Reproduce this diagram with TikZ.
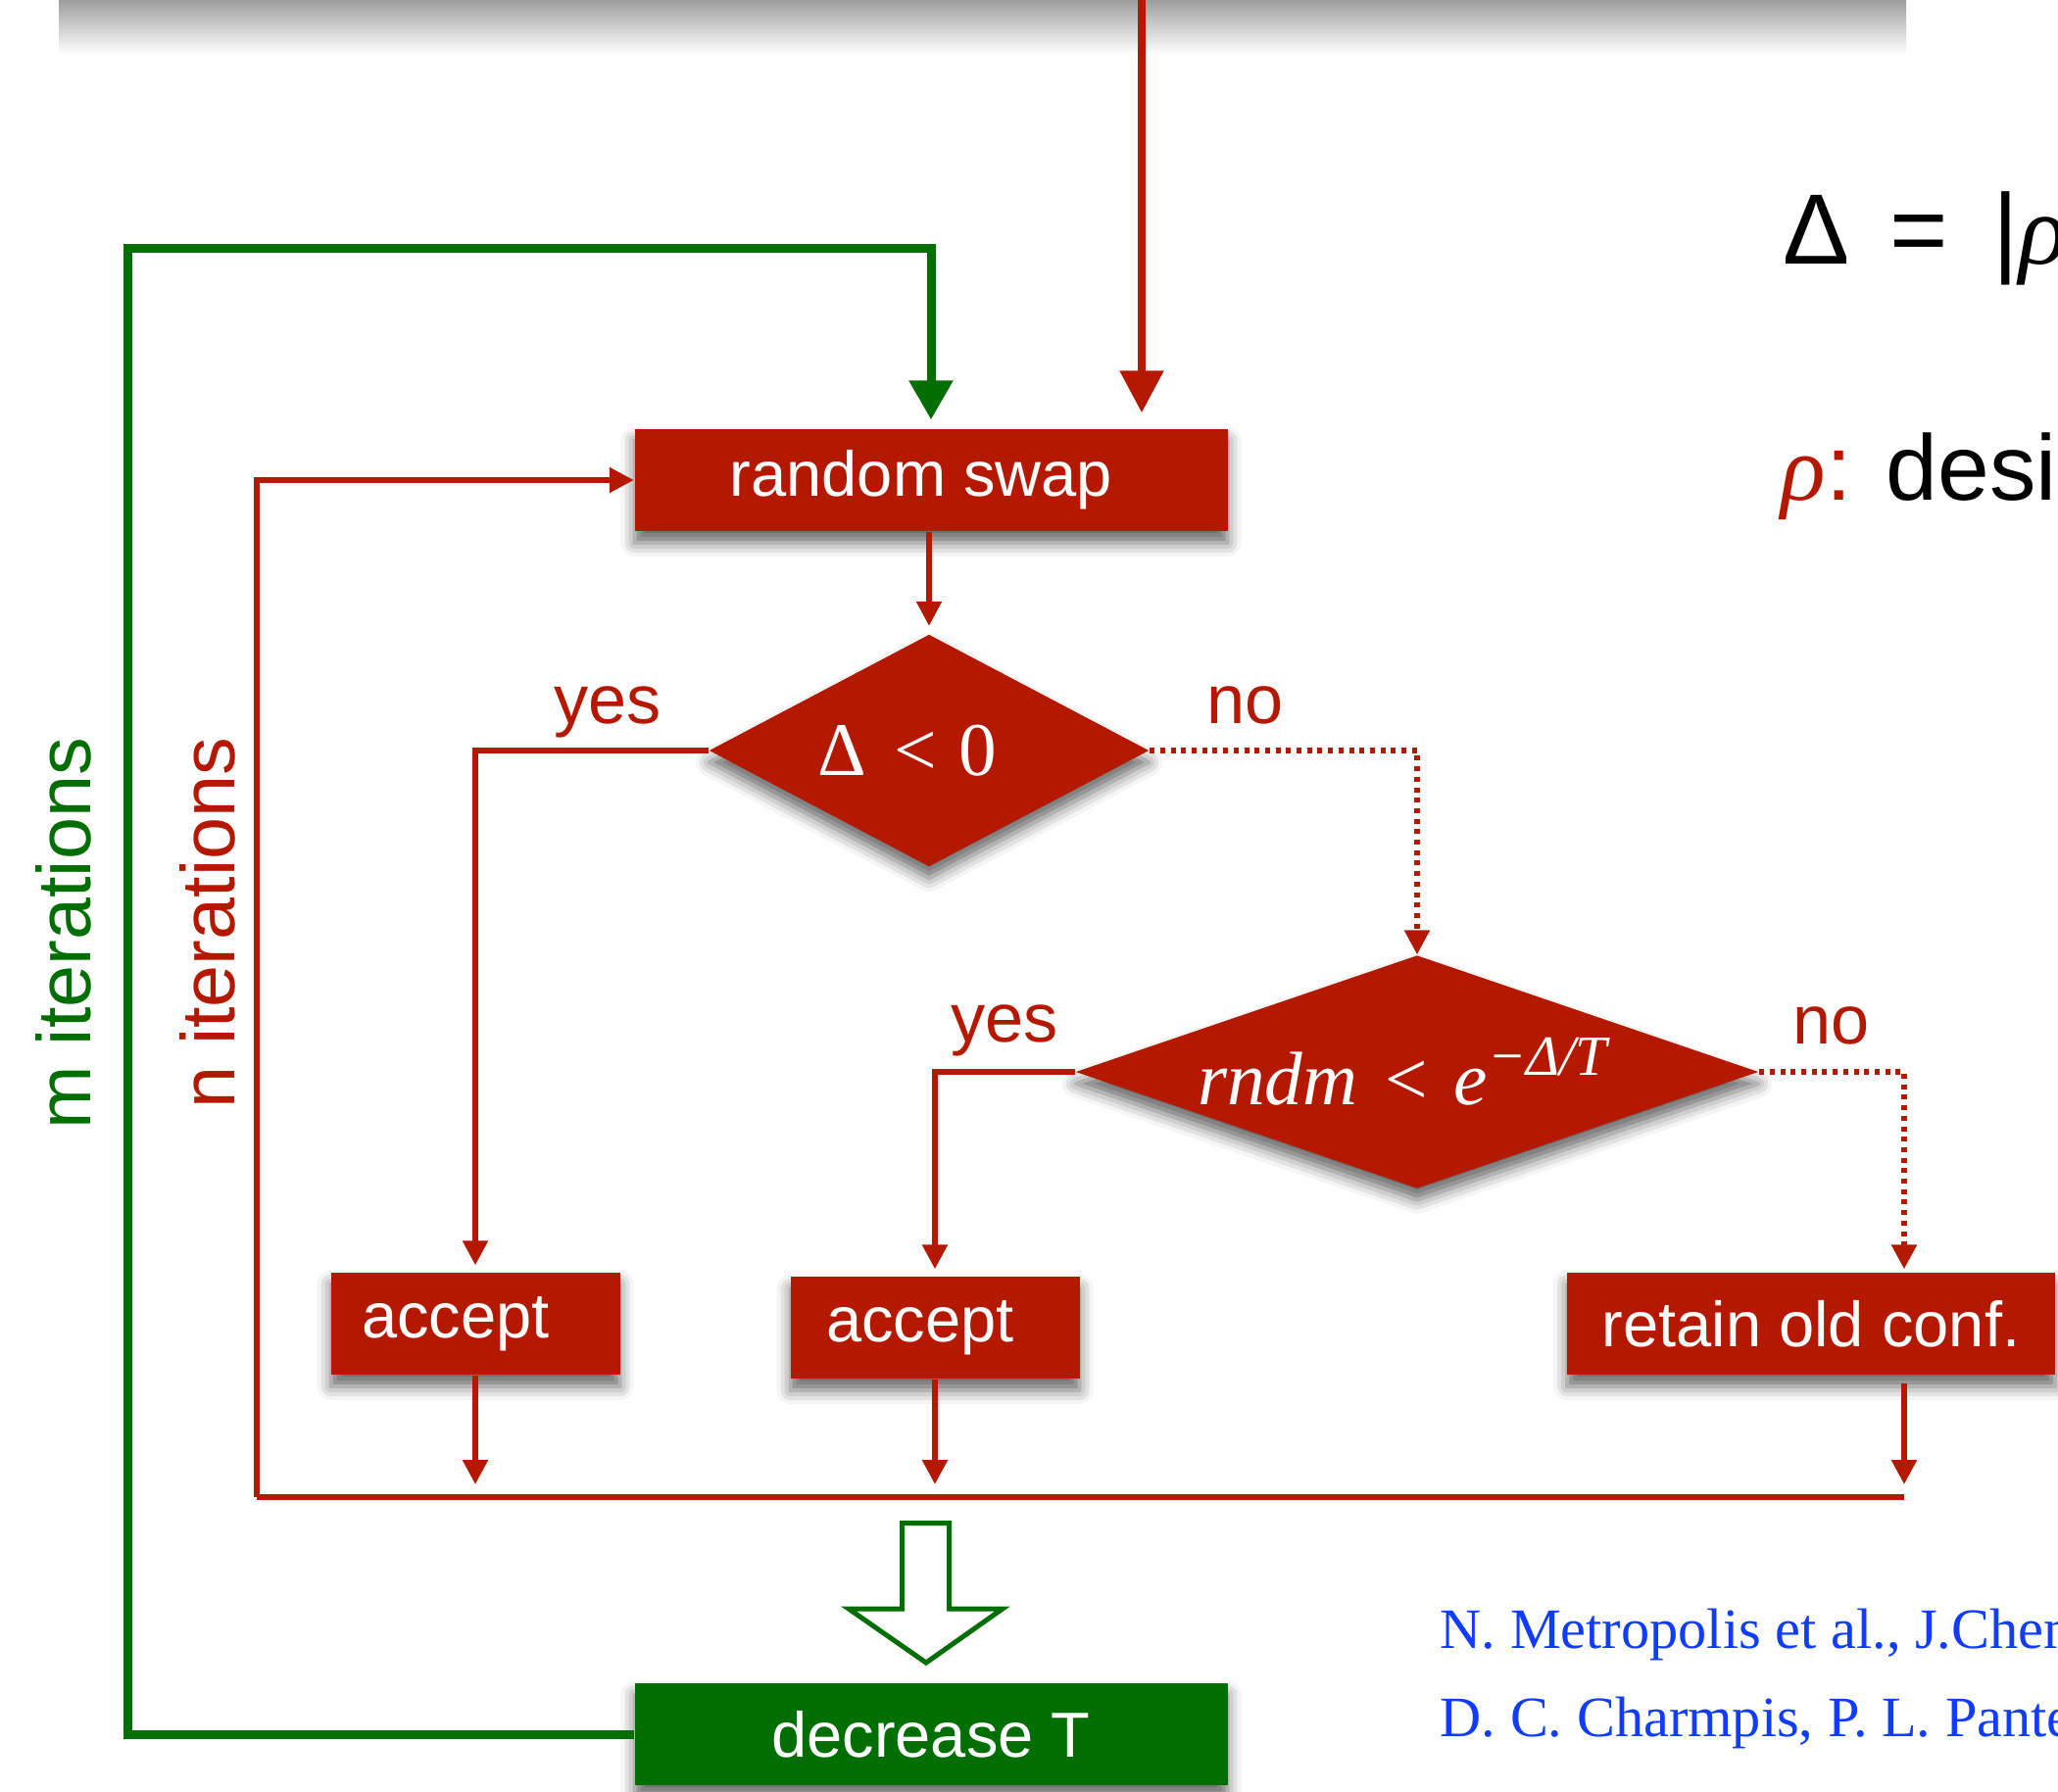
\documentclass[tikz,border=0pt]{standalone}
\usepackage{fontspec}
\setmainfont{Liberation Sans}
\newfontfamily\timesfont{Liberation Serif}
\usetikzlibrary{shapes.geometric,arrows.meta,shadows.blur}
\definecolor{flowred}{RGB}{180,25,0}
\definecolor{flowgreen}{RGB}{0,110,0}
\definecolor{citeblue}{RGB}{15,60,255}

\begin{document}
\begin{tikzpicture}[
    softshadow/.style={blur shadow={shadow xshift=0pt,shadow yshift=-0.12cm,shadow blur radius=0.14cm,shadow opacity=60}},
    box/.style={rectangle,fill=flowred,text=white,inner sep=0,softshadow,font=\fontsize{18.5}{22}\selectfont},
    test/.style={diamond,fill=flowred,text=white,inner sep=0,shape aspect=2,softshadow,font=\timesfont\fontsize{22}{26}\selectfont},
    flowline/.style={draw=flowred,line width=0.055cm,-{Triangle[length=0.25cm,width=0.25cm]}},
    noline/.style={flowline,dash pattern=on 0.05cm off 0.057cm},
    busline/.style={draw=flowred,line width=0.055cm},
    answer/.style={anchor=base,text=flowred,font=\fontsize{20}{24}\selectfont},
    looplabel/.style={rotate=90,font=\fontsize{22}{26}\selectfont},
    cite/.style={anchor=base west,inner sep=0,text=citeblue,font=\timesfont\fontsize{16.6}{20}\selectfont}]
    \pgfmathsetmacro{\pagewidth}{21}
    \pgfmathsetmacro{\pageheight}{18.29}
    \pgfmathsetmacro{\widebox}{6.05}
    \pgfmathsetmacro{\smallbox}{2.95}
    \pgfmathsetmacro{\boxheight}{1.04}
    \useasboundingbox (0,0) rectangle (\pagewidth,-\pageheight);
    \clip (0,0) rectangle (\pagewidth,-\pageheight);

    % the step above, only its shadow shows
    \shade[top color=black!38,bottom color=white] (0.6,0) rectangle (19.45,-0.55);
    \coordinate (topin) at (11.65,0);

    \node[box,minimum width=\widebox cm,minimum height=\boxheight cm] (swap) at (9.50,-4.90) {\hspace*{-0.2cm}random swap};
    \node[test,minimum width=4.49cm,minimum height=2.37cm] (test1) at (9.48,-7.66)
      {\hspace*{-0.44cm}Δ\hspace{0.36em}<\hspace{0.3em}0};
    \node[test,shape aspect=2.9,minimum width=6.97cm,minimum height=2.38cm] (test2) at (14.46,-10.94)
      {\hspace*{-0.3cm}\itshape rndm\hspace{0.3em}<\hspace{0.3em}e\raisebox{0.3cm}{\fontsize{16.5}{16.5}\selectfont −Δ/T}};
    \node[box,minimum width=\smallbox cm,minimum height=\boxheight cm] (acc1) at (4.85,-13.51) {\hspace*{-0.4cm}accept};
    \node[box,minimum width=\smallbox cm,minimum height=\boxheight cm] (acc2) at (9.54,-13.55) {\hspace*{-0.3cm}accept};
    \node[box,minimum width=4.98cm,minimum height=\boxheight cm] (keep) at (18.48,-13.51) {retain old conf.};
    \node[box,fill=flowgreen,minimum width=\widebox cm,minimum height=\boxheight cm] (cool) at (9.50,-17.70) {decrease T};

    \coordinate (busl) at (2.62,-15.28);
    \coordinate (busr) at (19.43,-15.28);
    \coordinate (mcorner) at (1.30,-2.53);

    % outer loop
    \draw[draw=flowred,line width=0.085cm,-{Triangle[length=0.43cm,width=0.43cm]},shorten >=0.16cm] (topin) -- (topin |- swap.north);
    \draw[draw=flowgreen,line width=0.09cm,-{Triangle[length=0.40cm,width=0.43cm]},shorten >=0.09cm] (cool.west) -| (mcorner) -| (swap.north);

    % inner loop
    \draw[flowline,shorten >=0.08cm] (test1.north |- swap.south) -- (test1.north);
    \draw[flowline,shorten >=0.07cm] (test1.west) -| (acc1.north);
    \draw[noline] (test1.east) -| (test2.north);
    \draw[flowline,shorten >=0.07cm] (test2.west) -| (acc2.north);
    \draw[noline,shorten >=0.03cm] (test2.east) -| (busr |- keep.north);
    \draw[flowline,shorten >=0.13cm] (acc1.south) -- (acc1.south |- busl);
    \draw[flowline,shorten >=0.13cm] (acc2.south) -- (acc2.south |- busl);
    \draw[flowline,shorten >=0.13cm,shorten <=0.08cm] (busr |- keep.south) -- (busr);
    \draw[busline] (busl) -- (busr);
    \draw[flowline] (busl) |- (swap.west);

    \draw[flowgreen,line width=0.05cm,fill=white] (9.205,-15.545) -- (9.685,-15.545) -- (9.685,-16.42)
      -- (10.23,-16.42) -- (9.45,-16.97) -- (8.66,-16.42) -- (9.205,-16.42) -- cycle;

    \node[answer] (yes1) at (6.20,-7.38) {yes};
    \node[answer] (no1) at (12.71,-7.38) {no};
    \node[answer] (yes2) at (10.25,-10.63) {yes};
    \node[answer] (no2) at (18.69,-10.65) {no};
    \node[looplabel,text=flowgreen] (miter) at (0.65,-9.53) {m iterations};
    \node[looplabel,text=flowred] (niter) at (2.12,-9.42) {n iterations};

    \node[anchor=base west,inner sep=0,font=\fontsize{29}{34}\selectfont] (delta) at (18.19,-2.69)
      {Δ\hspace{0.4em}=\hspace{0.45em}|{\timesfont\itshape ρ}};
    \node[anchor=base west,inner sep=0,font=\fontsize{27}{31}\selectfont] (rhodef) at (18.17,-5.10)
      {\textcolor{flowred}{{\timesfont\itshape ρ}:} desi};
    \node[cite] (cite1) at (14.69,-16.82) {N. Metropolis et al., J.Chem};
    \node[cite] (cite2) at (14.69,-17.72) {D. C. Charmpis, P. L. Pante};
\end{tikzpicture}
\end{document}
